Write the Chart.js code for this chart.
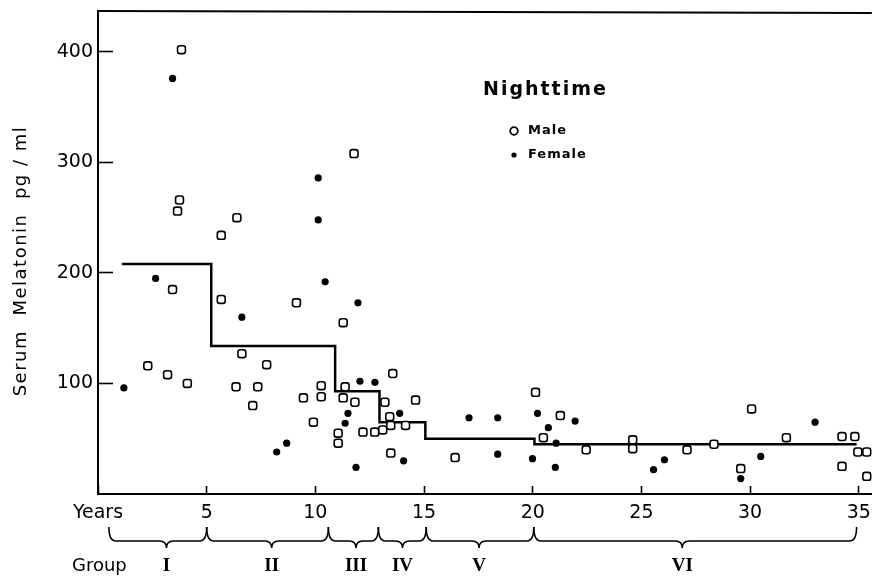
<!DOCTYPE html>
<html>
<head>
<meta charset="utf-8">
<script src="https://cdn.jsdelivr.net/npm/chart.js@4.4.1/dist/chart.umd.min.js"></script>
<style>
  html, body { margin: 0; padding: 0; background: #fff; }
  canvas { display: block; }
</style>
</head>
<body>
<canvas id="c" width="878" height="576"></canvas>
<script>
// Nighttime serum melatonin (pg/ml) by age (years), one entry per subject
const maleAge = [3.84, 3.75, 3.66, 6.39, 5.67, 3.43, 5.67, 9.13, 11.78, 11.28,
  2.29, 3.2, 4.11, 6.62, 7.76, 6.35, 7.35, 7.12, 10.27, 10.27,
  9.45, 9.91, 11.37, 11.28, 11.82, 11.05, 11.05, 12.19, 12.73, 13.1,
  13.56, 13.2, 13.42, 13.47, 14.15, 14.61, 13.47, 16.43, 20.13, 20.49,
  21.27, 22.46, 24.6, 24.6, 27.1, 28.34, 29.57, 30.07, 31.67, 34.23,
  34.82, 34.96, 35.37, 34.23, 35.37];
const maleLevel = [402, 266, 256, 250, 234, 185, 176, 173, 308, 155,
  116, 108, 100, 127, 117, 97, 97, 80, 98, 88,
  87, 65, 97, 87, 83, 55, 46, 56, 56, 58,
  109, 83, 70, 62, 62, 85, 37, 33, 92, 51,
  71, 40, 49, 41, 40, 45, 23, 77, 51, 52,
  52, 38, 38, 25, 16];
const femaleAge = [3.43, 2.65, 6.62, 1.19, 8.22, 8.68, 10.13, 10.13, 10.45, 11.96,
  12.05, 12.74, 11.5, 11.37, 13.88, 14.06, 11.87, 17.07, 18.39, 18.39,
  20.22, 20.72, 21.95, 21.08, 19.99, 21.04, 26.06, 25.56, 30.49, 29.57, 32.99];
const femaleLevel = [376, 195, 160, 96, 38, 46, 286, 248, 192, 173,
  102, 101, 73, 64, 73, 30, 24, 69, 69, 36,
  73, 60, 66, 46, 32, 24, 31, 22, 34, 14, 65];

// Age groups: first age of each group, age where the last group ends, group means
const groupNames = ['I', 'II', 'III', 'IV', 'V', 'VI'];
const groupStart = [1.1, 5.21, 10.91, 12.95, 15.06, 20.08];
const groupEnd = 34.9;
const groupMean = [208, 134, 93, 65, 50, 45];

// Age brackets drawn under the axis, and the age each group name sits at
const bracketEdges = [0.5, 5, 10.6, 12.9, 15.1, 20.05, 34.9];
const bracketMid = [3.15, 7.99, 11.87, 14.01, 17.53, 26.88];

// Axis ticks
const xTicks = [0, 5, 10, 15, 20, 25, 30, 35];
const yTicks = [100, 200, 300, 400];

const SANS = '"DejaVu Sans", sans-serif';

const toPoints = (xs, ys) => xs.map((v, i) => ({ x: v, y: ys[i] }));
const meanLine = toPoints(groupStart, groupMean)
  .concat([{ x: groupEnd, y: groupMean[groupMean.length - 1] }]);

// keep the plot frame fixed: no extra room for edge labels
const noEdgePadding = s => {
  s.paddingTop = 0; s.paddingBottom = 0; s.paddingLeft = 0; s.paddingRight = 0;
};

// Frame top, axis title, key and the age-group braces
const decor = {
  id: 'decor',
  afterDraw(chart) {
    const { ctx, chartArea: a, scales: { x } } = chart;
    ctx.save();
    ctx.strokeStyle = '#000';
    ctx.fillStyle = '#000';

    // top edge of the frame
    ctx.lineWidth = 2;
    ctx.beginPath();
    ctx.moveTo(a.left, a.top);
    ctx.lineTo(a.right, a.top + 2);
    ctx.stroke();

    // vertical axis title
    ctx.save();
    ctx.translate(21, 261);
    ctx.rotate(-Math.PI / 2);
    ctx.font = '18px ' + SANS;
    ctx.letterSpacing = '1.5px';
    ctx.textAlign = 'center';
    ctx.textBaseline = 'middle';
    ctx.fillText('Serum  Melatonin  pg / ml', 0, 0);
    ctx.restore();

    // title and key
    ctx.save();
    ctx.font = 'bold 19px ' + SANS;
    ctx.letterSpacing = '2px';
    ctx.textAlign = 'left';
    ctx.textBaseline = 'middle';
    ctx.fillText('Nighttime', 483, 90);
    ctx.font = 'bold 13px ' + SANS;
    ctx.letterSpacing = '1px';
    ctx.fillText('Male', 528, 131);
    ctx.fillText('Female', 528, 155);
    ctx.restore();
    ctx.lineWidth = 1.8;
    ctx.beginPath();
    ctx.arc(514, 131, 3.8, 0, Math.PI * 2);
    ctx.stroke();
    ctx.beginPath();
    ctx.arc(514, 155, 2.6, 0, Math.PI * 2);
    ctx.fill();

    // age-group braces
    const yTop = 527, yBar = 541, yTip = 548, r = 7;
    ctx.lineWidth = 1.6;
    for (let i = 0; i < groupNames.length; i++) {
      const p0 = x.getPixelForValue(bracketEdges[i]);
      const p1 = x.getPixelForValue(bracketEdges[i + 1]);
      const pm = x.getPixelForValue(bracketMid[i]);
      ctx.beginPath();
      ctx.moveTo(p0, yTop);
      ctx.quadraticCurveTo(p0, yBar, p0 + r, yBar);
      ctx.lineTo(pm - r, yBar);
      ctx.quadraticCurveTo(pm, yBar, pm, yTip);
      ctx.quadraticCurveTo(pm, yBar, pm + r, yBar);
      ctx.lineTo(p1 - r, yBar);
      ctx.quadraticCurveTo(p1, yBar, p1, yTop);
      ctx.stroke();
    }

    // group names
    ctx.textBaseline = 'middle';
    ctx.font = '18px ' + SANS;
    ctx.textAlign = 'left';
    ctx.fillText('Group', 72, 566);
    ctx.font = 'bold 19px "Liberation Serif", serif';
    ctx.textAlign = 'center';
    groupNames.forEach((g, i) => {
      ctx.fillText(g, x.getPixelForValue(bracketMid[i]), 566);
    });
    ctx.restore();
  }
};

new Chart(document.getElementById('c'), {
  type: 'scatter',
  data: {
    datasets: [
      {
        label: 'Male',
        data: toPoints(maleAge, maleLevel),
        pointStyle: 'rectRounded',
        pointRadius: 4.6,
        pointBorderWidth: 1.6,
        borderColor: '#000',
        backgroundColor: '#fff'
      },
      {
        label: 'Female',
        data: toPoints(femaleAge, femaleLevel),
        pointStyle: 'circle',
        pointRadius: 3.6,
        pointBorderWidth: 0,
        borderColor: '#000',
        backgroundColor: '#000'
      },
      {
        label: 'Group mean',
        type: 'line',
        data: meanLine,
        stepped: true,
        showLine: true,
        pointRadius: 0,
        borderWidth: 2.5,
        borderColor: '#000',
        fill: false
      }
    ]
  },
  options: {
    responsive: false,
    animation: false,
    devicePixelRatio: 1,
    layout: { padding: { top: 11, right: 0, bottom: 0, left: 0 } },
    plugins: {
      legend: { display: false },
      tooltip: { enabled: false },
      title: { display: false }
    },
    scales: {
      x: {
        type: 'linear',
        position: 'bottom',
        min: 0,
        max: 35.6,
        border: { display: true, color: '#000', width: 2 },
        grid: { drawOnChartArea: false, drawTicks: true, tickLength: -8, color: '#000', tickWidth: 1.6 },
        ticks: {
          color: '#000',
          font: { family: SANS, size: 19 },
          padding: 16,
          maxRotation: 0,
          callback: v => (v === 0 ? 'Years' : String(v))
        },
        afterBuildTicks: s => { s.ticks = xTicks.map(v => ({ value: v })); },
        afterFit: s => { s.height = 82; noEdgePadding(s); }
      },
      y: {
        type: 'linear',
        min: 0,
        max: 437,
        border: { display: true, color: '#000', width: 2 },
        grid: { drawOnChartArea: false, drawTicks: true, tickLength: -15, color: '#000', tickWidth: 1.6 },
        ticks: {
          color: '#000',
          font: { family: SANS, size: 19 },
          padding: 20
        },
        afterBuildTicks: s => { s.ticks = yTicks.map(v => ({ value: v })); },
        afterFit: s => { s.width = 98; noEdgePadding(s); }
      }
    }
  },
  plugins: [decor]
});
</script>
</body>
</html>
